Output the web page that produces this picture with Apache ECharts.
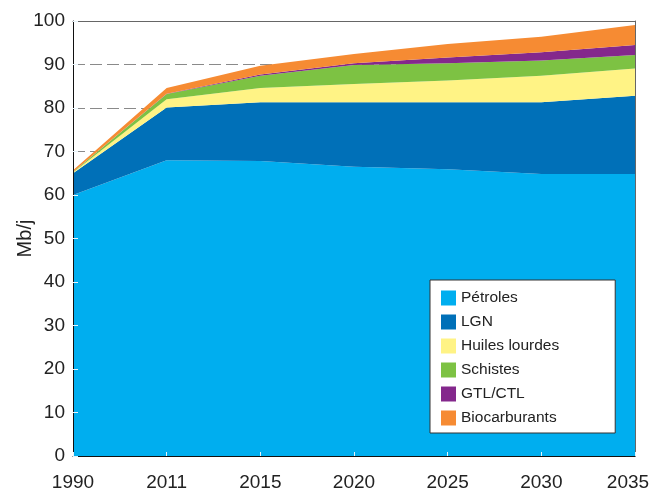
<!DOCTYPE html>
<html>
<head>
<meta charset="utf-8">
<script src="https://cdn.jsdelivr.net/npm/echarts@6/dist/echarts.min.js"></script>
<style>html,body{margin:0;padding:0;background:#fff}#c{width:653px;height:493px}</style>
</head>
<body>
<div id="c"></div>
<script>
const years = ['1990','2011','2015','2020','2025','2030','2035'];
const yTicks = [0,10,20,30,40,50,60,70,80,90,100];
const petroles = [60, 68, 67.8, 66.5, 65.9, 64.8, 64.8];
const lgn = [5, 12.1, 13.5, 14.8, 15.4, 16.5, 18.0];
const huiles = [0.2, 1.9, 3.3, 4.2, 5.0, 6.1, 6.3];
const schistes = [0.1, 1.2, 2.8, 4.4, 4.0, 3.5, 3.1];
const gtl = [0, 0.1, 0.3, 0.4, 1.3, 1.9, 2.3];
const bio = [0.4, 1.3, 2.0, 2.1, 3.1, 3.6, 4.6];

const names = ['Pétroles','LGN','Huiles lourdes','Schistes','GTL/CTL','Biocarburants'];
const colors = ['#00aeef','#0070b8','#fff385','#7dc243','#84288c','#f68b33'];
const values = [petroles, lgn, huiles, schistes, gtl, bio];

const font = 'Liberation Sans, Arial, Helvetica, sans-serif';
const lastYear = years[years.length - 1];
const chart = echarts.init(document.getElementById('c'));
chart.setOption({
  animation: false,
  textStyle: {fontFamily: font},
  grid: {left: 73, right: 18, top: 21, bottom: 37, show: false, containLabel: false, outerBoundsMode: 'none'},
  legend: {
    orient: 'vertical', left: 430, top: 280,
    padding: [10, 56, 7, 11],
    backgroundColor: '#fff', borderColor: '#333', borderWidth: 1,
    itemWidth: 15, itemHeight: 15, itemGap: 8,
    icon: 'rect',
    textStyle: {fontSize: 15.5, color: '#222', fontFamily: font},
    data: names
  },
  xAxis: [
    {type: 'category', data: years, boundaryGap: false, position: 'bottom', z: 10,
     axisLine: {onZero: false, lineStyle: {color: '#111', width: 1}},
     axisTick: {inside: true, length: 4, lineStyle: {color: '#e8f4fb'}},
     axisLabel: {fontSize: 19, color: '#222', margin: 17, fontFamily: font,
       formatter: v => v === lastYear ? '{e|' + v + '}' : v,
       rich: {e: {fontSize: 19, color: '#222', fontFamily: font, padding: [0, 14, 0, 0]}}},
     splitLine: {show: false}},
    {type: 'category', data: years, boundaryGap: false, position: 'top', z: 10,
     axisLine: {onZero: false, lineStyle: {color: '#666', width: 1}},
     axisTick: {show: false}, axisLabel: {show: false}, splitLine: {show: false}}
  ],
  yAxis: [
    {type: 'value', min: yTicks[0], max: yTicks[yTicks.length-1], interval: 10, position: 'left', z: 10,
     name: 'Mb/j', nameLocation: 'middle', nameGap: 38, nameMoveOverlap: false,
     nameTextStyle: {fontSize: 20, color: '#222', fontFamily: font},
     axisLine: {show: true, onZero: false, lineStyle: {color: '#111', width: 1}},
     axisTick: {show: true, inside: true, length: 5, lineStyle: {color: '#e8f4fb'}},
     axisLabel: {fontSize: 19, color: '#222', margin: 8, fontFamily: font},
     splitLine: {show: false}},
    {type: 'value', min: 0, max: 100, interval: 10, position: 'right', z: 10,
     axisLine: {show: true, onZero: false, lineStyle: {color: '#666', width: 1}},
     axisTick: {show: false}, axisLabel: {show: false}, splitLine: {show: false}},
    {type: 'value', min: 0, max: 100, interval: 10, position: 'left', z: 0,
     axisLine: {show: false, onZero: false}, axisTick: {show: false}, axisLabel: {show: false},
     splitLine: {show: true, lineStyle: {color: '#8a8a8a', width: 1, type: [12, 5]}}}
  ],
  series: names.map((n, i) => ({
    name: n, type: 'line', stack: 'total', data: values[i],
    xAxisIndex: 0, yAxisIndex: 0,
    symbol: 'none', smooth: false,
    lineStyle: {width: 0, color: colors[i]},
    itemStyle: {color: colors[i]},
    areaStyle: {color: colors[i], opacity: 1}
  }))
});
</script>
</body>
</html>
